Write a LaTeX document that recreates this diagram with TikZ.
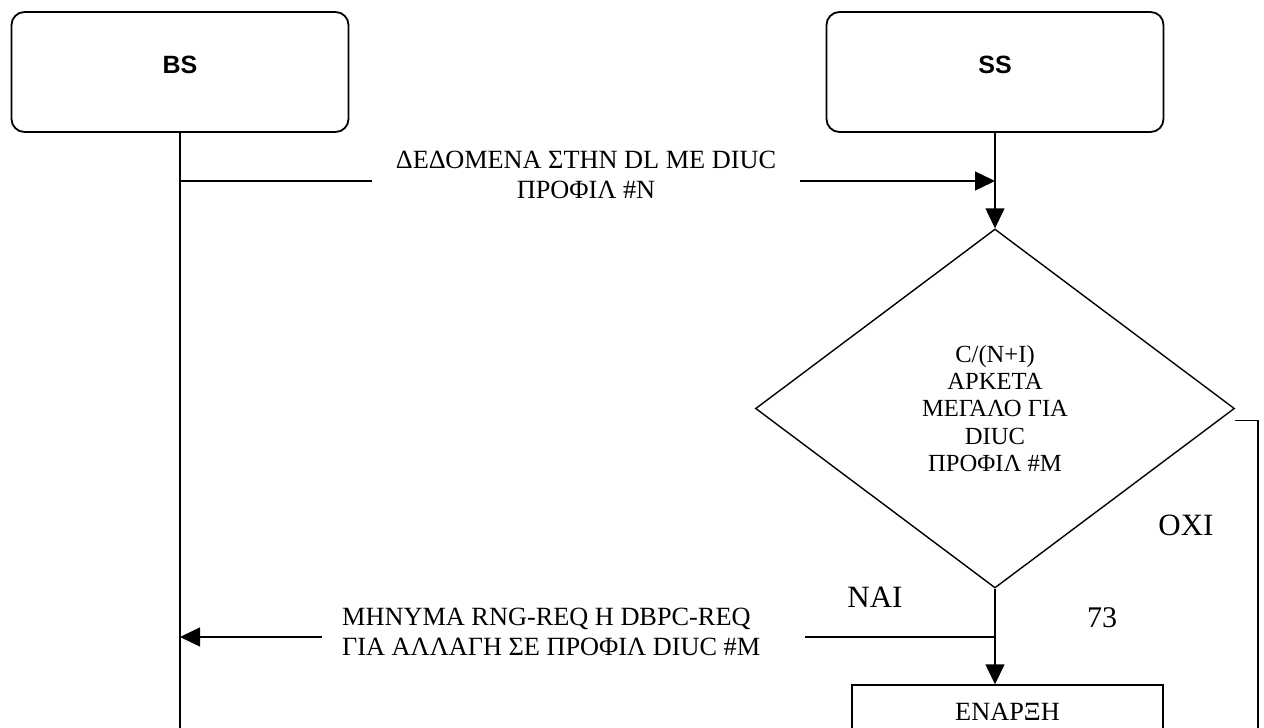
\documentclass[tikz,border=0pt]{standalone}
\usepackage{fontspec}
\setmainfont{Liberation Serif}
\newfontfamily\arialfont{Liberation Sans}
\usetikzlibrary{shapes.geometric,arrows.meta}
\begin{document}
\begin{tikzpicture}[x=1pt,y=-1pt,
  conn/.style={line width=1.4pt},
  arr/.style={conn,-{Triangle[length=20pt,width=19pt]}},
  actor/.style={draw,line width=1.8pt,rounded corners=13pt,minimum width=337pt,inner sep=0pt,
    text height=61pt,text depth=59pt,font=\arialfont\bfseries\fontsize{25}{30}\selectfont,anchor=base},
  msg/.style={font=\fontsize{26.3}{30}\selectfont,inner ysep=0pt},
  decision/.style={diamond,draw,line width=1.4pt,minimum width=479pt,minimum height=359pt,
    inner sep=0pt,align=center,font=\fontsize{24.6}{27.3}\selectfont},
  process/.style={draw,line width=1.4pt,minimum width=311pt,inner sep=0pt,text height=35pt,
    text depth=80pt,anchor=base,font=\fontsize{26.3}{30}\selectfont},
  big/.style={font=\fontsize{31}{36}\selectfont,anchor=base,inner sep=0pt},
]
\clip (0,0) rectangle (1264,728);
\fill[white] (0,0) rectangle (1264,728);
% actors
\node[actor] (bs) at (180,73) {BS};
\node[actor] (ss) at (995,73) {SS};
% decision
\node[decision] (dec) at (995,408.5) {C/(N+I)\\ΑΡΚΕΤΑ\\ΜΕΓΑΛΟ ΓΙΑ\\DIUC\\ΠΡΟΦΙΛ \#Μ};
% process box
\node[process] (start) at (1007.5,720) {ΕΝΑΡΞΗ};
% coordinates
\coordinate (bsEnd) at (180,740);
\coordinate (bsA) at (180,181);
\coordinate (ssA) at (995,181);
\coordinate (bsB) at (180,637);
\coordinate (ssB) at (995,637);
\coordinate (oxiEnd) at (1258,740);
\path (dec.east) ++(0,12) coordinate (oxiA);
% message labels
\node[msg,align=center,anchor=base,inner xsep=24pt] (lblA) at (586,198)
  {ΔΕΔΟΜΕΝΑ ΣΤΗΝ DL ΜΕ DIUC\\ΠΡΟΦΙΛ \#Ν};
\node[msg,align=left,anchor=base west,inner xsep=20pt] (lblB) at (322,655)
  {ΜΗΝΥΜΑ RNG-REQ Η DBPC-REQ\\ΓΙΑ ΑΛΛΑΓΗ ΣΕ ΠΡΟΦΙΛ DIUC \#Μ};
% lifelines
\draw[conn] (bs.south) -- (bsEnd);
\draw[arr] (ss.south) -- (dec.north);
% message 1
\draw[conn] (bsA) -- (bsA -| lblA.west);
\draw[arr] (ssA -| lblA.east) -- (ssA);
% message 2
\draw[arr] (bsB -| lblB.west) -- (bsB);
\draw[conn] (ssB) -- ([xshift=25pt]ssB -| lblB.east);
% decision branches
\draw[arr] (dec.south) -- (dec.south |- start.north);
\draw[conn] (oxiA) -| (oxiEnd);
% branch labels
\node[big] (nai) at (875,607) {ΝΑΙ};
\node[big] (oxi) at (1186,535) {ΟΧΙ};
\node[big,font=\fontsize{30}{36}\selectfont] (num) at (1102,627) {73};
\end{tikzpicture}
\end{document}
